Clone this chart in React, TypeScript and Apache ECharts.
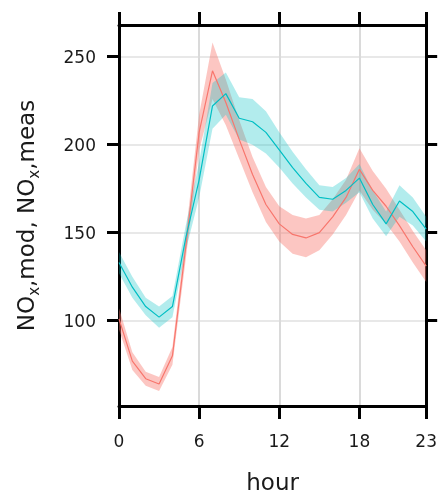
import React, { useEffect, useRef } from 'react';
import * as echarts from 'echarts';

const hours = [0, 1, 2, 3, 4, 5, 6, 7, 8, 9, 10, 11, 12, 13, 14, 15, 16, 17, 18, 19, 20, 21, 22, 23];
const modMean = [101, 77, 67, 64, 80, 142, 207, 242, 224, 203, 183, 166, 155, 149, 147, 150, 159, 170, 186, 174, 165, 154, 142, 131];
const modHalf = [6, 5, 4, 4, 5, 7, 10, 16, 13, 11, 10, 10, 10, 11, 11, 10, 10, 10, 12, 11, 10, 9, 9, 9];
const measMean = [133, 119, 108, 102, 108, 147, 180, 222, 229, 215, 213, 207, 197, 187, 178, 170, 169, 174, 181, 166, 155, 168, 162, 152];
const measHalf = [6, 6, 5, 6, 6, 7, 10, 13, 12, 12, 13, 12, 10, 9, 8, 7, 7, 7, 8, 8, 7, 9, 8, 7];
const xTicks = [0, 6, 12, 18, 23];
const yTicks = [100, 150, 200, 250];

const RED = '#F8766D';
const TEAL = '#00BFC4';
const FONT = 'DejaVu Sans';

export default function App() {
  const ref = useRef<HTMLDivElement>(null);
  useEffect(() => {
    const chart = echarts.init(ref.current as HTMLDivElement, null, { renderer: 'svg' });
    const line = (m: number[]) => hours.map((h, i) => [h, m[i]]);
    const axisLine = { show: true, onZero: false, lineStyle: { color: '#000', width: 3 } };
    const tickStyle = { color: '#000', width: 3 };
    const band = (name: string, m: number[], hw: number[], color: string, opacity: number) => {
      const rows = hours.map((h, i) => [h, m[i] - hw[i], m[i] + hw[i]]);
      return {
        type: 'custom', name, silent: true, clip: true,
        data: rows,
        encode: { x: 0, y: [1, 2] },
        renderItem: (params: any, api: any) => {
          if (params.dataIndex !== 0) return null;
          const upper = rows.map((r) => api.coord([r[0], r[2]]));
          const lowerPts = rows.map((r) => api.coord([r[0], r[1]])).reverse();
          return {
            type: 'polygon',
            shape: { points: upper.concat(lowerPts) },
            style: { fill: color, opacity },
          };
        },
      };
    };
    const nameStyle = { fontFamily: FONT, fontSize: 23, color: '#1a1a1a' };
    chart.setOption({
      animation: false,
      grid: { left: 119, right: 11, top: 25, bottom: 86, containLabel: false },
      xAxis: [
        {
          type: 'value', position: 'bottom', min: 0, max: 23,
          name: 'hour', nameLocation: 'middle', nameGap: 64,
          nameTextStyle: nameStyle,
          axisLine,
          axisTick: { show: true, inside: false, length: 13, lineStyle: tickStyle, customValues: xTicks },
          axisLabel: { show: true, margin: 26, fontFamily: FONT, fontSize: 17, color: '#1a1a1a', customValues: xTicks },
          splitLine: { show: true, lineStyle: { color: '#dadada', width: 2 } },
        },
        {
          type: 'value', position: 'top', min: 0, max: 23,
          axisLine,
          axisTick: { show: true, inside: false, length: 13, lineStyle: tickStyle, customValues: xTicks },
          axisLabel: { show: false, customValues: xTicks },
          splitLine: { show: false },
        },
      ],
      yAxis: [
        {
          type: 'value', position: 'left', min: 51.5, max: 268,
          name: '{n|NO}{s|x}{n|,mod, NO}{s|x}{n|,meas}',
          nameLocation: 'middle', nameGap: 78, nameRotate: 90,
          nameTextStyle: {
            ...nameStyle,
            rich: {
              n: { fontFamily: FONT, fontSize: 23, color: '#1a1a1a', lineHeight: 30, verticalAlign: 'middle' },
              s: { fontFamily: FONT, fontSize: 15, color: '#1a1a1a', lineHeight: 30, verticalAlign: 'bottom' },
            },
          },
          axisLine,
          axisTick: { show: true, inside: false, length: 12, lineStyle: tickStyle, customValues: yTicks },
          axisLabel: { show: true, margin: 23, fontFamily: FONT, fontSize: 17, color: '#1a1a1a', customValues: yTicks },
          splitLine: { show: true, lineStyle: { color: '#e8e8e8', width: 2 } },
        },
        {
          type: 'value', position: 'right', min: 51.5, max: 268,
          axisLine,
          axisTick: { show: true, inside: false, length: 11, lineStyle: tickStyle, customValues: yTicks },
          axisLabel: { show: false, customValues: yTicks },
          splitLine: { show: false },
        },
      ],
      series: [
        band('modBand', modMean, modHalf, RED, 0.42),
        band('measBand', measMean, measHalf, TEAL, 0.3),
        {
          type: 'line', name: 'NOx,mod', data: line(modMean), symbol: 'none',
          lineStyle: { color: RED, width: 1.2 }, silent: true,
        },
        {
          type: 'line', name: 'NOx,meas', data: line(measMean), symbol: 'none',
          lineStyle: { color: TEAL, width: 1.2 }, silent: true,
        },
      ],
    });
    return () => chart.dispose();
  }, []);
  return <div ref={ref} style={{ position: 'fixed', left: 0, top: 0, width: 440, height: 498 }} />;
}
